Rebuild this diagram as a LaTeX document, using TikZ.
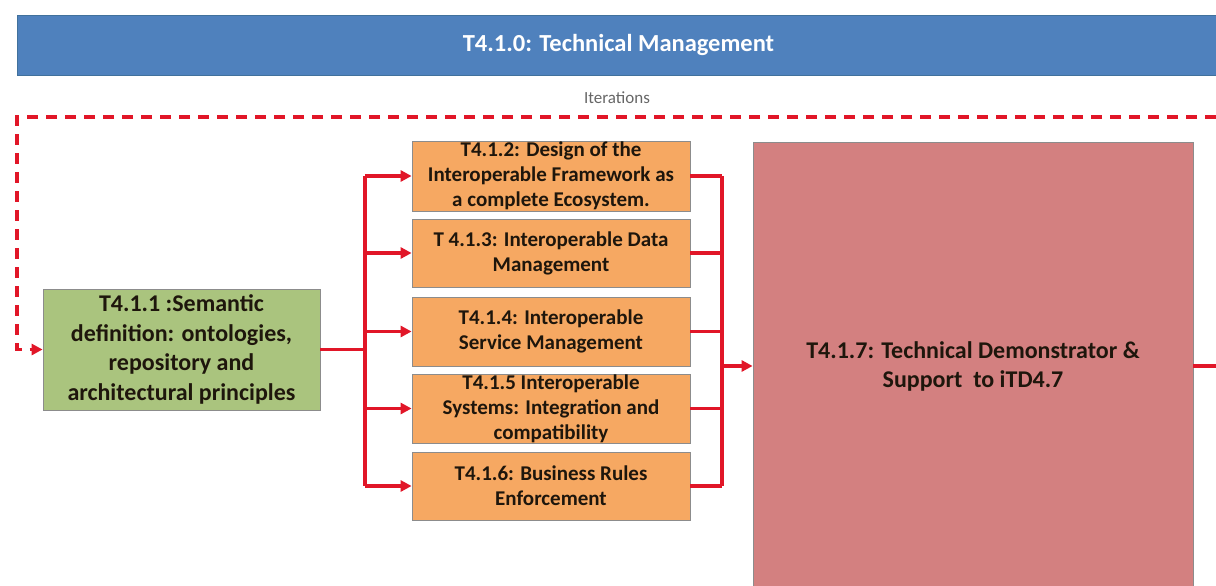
\documentclass[tikz,border=0pt]{standalone}
\usepackage{fontspec}
\setmainfont{Carlito}
\usetikzlibrary{arrows.meta}
\definecolor{barblue}{RGB}{79,129,189}
\definecolor{barborder}{RGB}{65,113,156}
\definecolor{greenfill}{RGB}{170,196,126}
\definecolor{orangefill}{RGB}{246,168,98}
\definecolor{pinkfill}{RGB}{211,128,128}
\definecolor{linered}{RGB}{225,22,40}
\definecolor{boxtext}{RGB}{30,22,12}
\tikzset{
  box/.style={draw=black!45, line width=0.8pt, inner sep=0pt, align=center, font=\bfseries, text=boxtext},
  greenbox/.style={box, fill=greenfill, minimum width=277pt, minimum height=121pt, font=\fontsize{24}{29.5}\selectfont\bfseries},
  orangebox/.style={box, fill=orangefill, minimum width=278pt, font=\fontsize{21}{25}\selectfont\bfseries},
  bigbox/.style={box, fill=pinkfill, minimum width=440pt, minimum height=448pt, font=\fontsize{24}{29}\selectfont\bfseries},
  conn/.style={draw=linered, line width=3.4pt},
  arr/.style={conn, -{Triangle[length=11pt,width=11pt]}},
}
\begin{document}
\begin{tikzpicture}[x=1pt,y=-1pt]
\useasboundingbox (0,0) rectangle (1216,586);
% title bar
\node[draw=barborder, fill=barblue, line width=0.8pt, minimum width=1203pt, minimum height=60pt, inner sep=0pt,
      text=white, font=\fontsize{24.5}{28}\selectfont\bfseries] (title) at (618.5,45) {T4.1.0: Technical Management};
\node[text=black!60, font=\fontsize{17}{19}\selectfont] (iter) at (617,98) {Iterations};
% boxes
\node[greenbox] (g) at (181.5,349.5) {T4.1.1 :Semantic\\definition: ontologies,\\repository and\\architectural principles};
\node[orangebox, minimum height=70pt] (b2) at (551,176) {T4.1.2: Design of the\\Interoperable Framework as\\a complete Ecosystem.};
\node[orangebox, minimum height=68pt] (b3) at (551,253) {T 4.1.3: Interoperable Data\\Management};
\node[orangebox, minimum height=69pt] (b4) at (551,331.5) {T4.1.4: Interoperable\\Service Management};
\node[orangebox, minimum height=69pt] (b5) at (551,408.5) {T4.1.5 Interoperable\\Systems: Integration and\\compatibility};
\node[orangebox, minimum height=68pt] (b6) at (551,486) {T4.1.6: Business Rules\\Enforcement};
\node[bigbox] (big) at (973,366) {T4.1.7: Technical Demonstrator \&\\Support\ \ to iTD4.7};
% coordinates
\coordinate (jl) at (365,349.5);
\coordinate (jr) at (722,366);
\coordinate (exitR) at (1216,366);
\coordinate (dashR) at (1216,117);
\coordinate (dashTL) at (17,117);
% left fan-out
\draw[conn] (g.east) -- (jl);
\draw[conn] (b2.west -| jl) -- (b6.west -| jl);
\foreach \b in {b2,b3,b4,b5,b6} {
  \draw[arr] (\b.west -| jl) -- (\b.west);
}
% right merge
\draw[conn] (b2.east -| jr) -- (b6.east -| jr);
\foreach \b in {b2,b3,b4,b5,b6} {
  \draw[conn] (\b.east) -- (\b.east -| jr);
}
\draw[arr] (jr) -- (big.west |- jr);
\draw[conn] (big.east |- exitR) -- (exitR);
% iterations dashed loop
\draw[arr, dash pattern=on 11pt off 8pt, line width=3.4pt] (dashR) -- (dashTL) -- (dashTL |- g.west) -- (g.west);
\end{tikzpicture}
\end{document}
